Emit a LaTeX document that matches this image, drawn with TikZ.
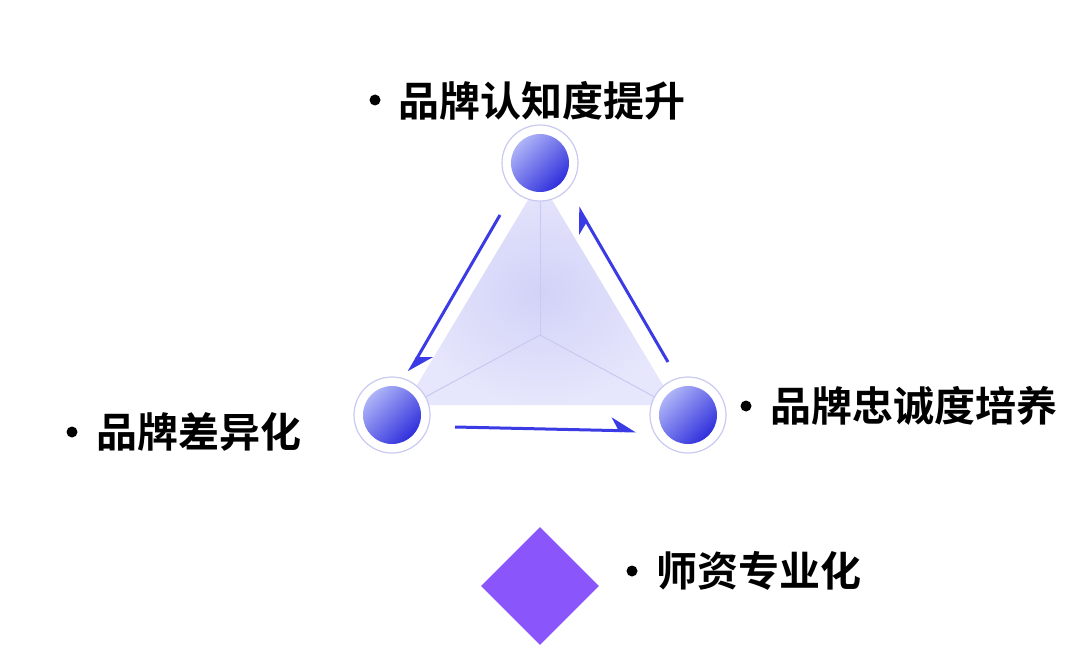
\documentclass[tikz,border=0pt]{standalone}
\usepackage{fontspec}
\newfontfamily\cjk{Noto Sans CJK SC}[BoldFont={Noto Sans CJK SC Bold}]
\usetikzlibrary{arrows.meta,shapes.geometric}
\definecolor{ballL}{HTML}{AEB4F7}
\definecolor{ballD}{HTML}{2F2FDC}
\definecolor{ringC}{HTML}{C9C9F2}
\definecolor{arrC}{HTML}{3B3BE6}
\definecolor{fillC}{HTML}{E6E6FC}
\definecolor{fillM}{HTML}{D2D2F8}
\definecolor{purp}{HTML}{8A55FA}
\tikzset{
  ring/.style={circle,draw=ringC,line width=1.2pt,fill=white,minimum size=76pt,inner sep=0pt},
  ball/.style={circle,minimum size=58pt,inner sep=0pt,shading=axis,left color=ballL,right color=ballD,shading angle=45},
  lbl/.style={font=\cjk\bfseries\fontsize{41}{46}\selectfont,anchor=west,inner sep=0pt},
  dot/.style={circle,fill=black,minimum size=11pt,inner sep=0pt},
  spoke/.style={draw=ringC,line width=1pt},
  flow/.style={draw=arrC,line width=3pt,-{Stealth[left,length=22pt,width=26pt]}}
}
\begin{document}
\begin{tikzpicture}[x=1pt,y=-1pt]
\useasboundingbox (0,0) rectangle (1080,669);
% triangle fill
\shade[inner color=fillM,outer color=fillC] (540,180) -- (405,405) -- (675,405) -- cycle;
\coordinate (c) at (540,335);
\node[ring] (rt) at (540,163) {};
\node[ring] (rl) at (392,415) {};
\node[ring] (rr) at (688,415) {};
\draw[spoke] (rt.south) -- (c);
\draw[spoke] (rl) -- (c);
\draw[spoke] (rr) -- (c);
\node[ball] (bt) at (540,163) {};
\node[ball] (bl) at (392,415) {};
\node[ball] (br) at (688,415) {};
% arrows
\coordinate (a1) at (500,215); \coordinate (a2) at (409,372);
\coordinate (b1) at (455,427); \coordinate (b2) at (636,431);
\coordinate (d1) at (668,362); \coordinate (d2) at (578,207);
\draw[flow] (a1) -- (a2);
\draw[flow] (b1) -- (b2);
\draw[flow] (d1) -- (d2);
% labels
\node[dot] (pt) at (375,100) {};
\node[lbl] (lt) at (398,101) {品牌认知度提升};
\node[dot] (pl) at (72,432) {};
\node[lbl] (ll) at (96,432) {品牌差异化};
\node[dot] (pr) at (746,406) {};
\node[lbl] (lr) at (770,406) {品牌忠诚度培养};
\node[dot] (pd) at (632,571) {};
\node[lbl] (ld) at (656,571) {师资专业化};
\node[diamond,fill=purp,minimum width=118pt,minimum height=118pt,inner sep=0pt] (dm) at (540,586) {};
\end{tikzpicture}
\end{document}
